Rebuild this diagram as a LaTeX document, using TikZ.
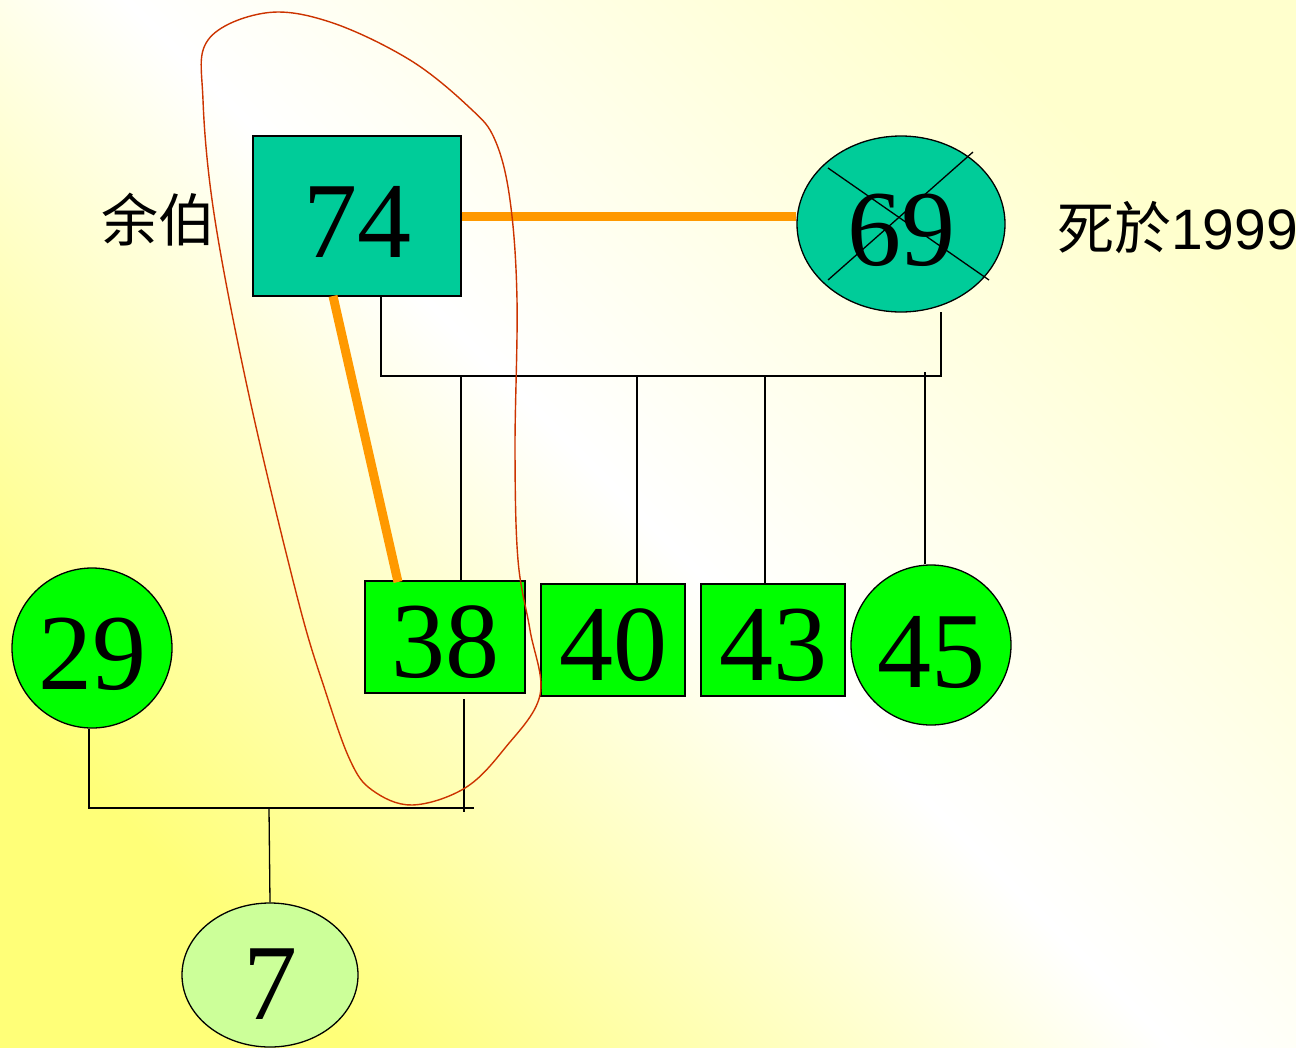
\documentclass[tikz,border=0pt]{standalone}
\usepackage{fontspec}
\setmainfont{Liberation Serif}
\newfontfamily\cjk{Noto Sans CJK SC}
\newfontfamily\arialf{Liberation Sans}
\usetikzlibrary{shapes.geometric,calc}
\definecolor{teal74}{RGB}{0,204,153}
\definecolor{green38}{RGB}{0,255,0}
\definecolor{lightg}{RGB}{204,255,153}
\definecolor{orangeL}{RGB}{255,153,0}
\definecolor{redloop}{RGB}{204,51,0}
\definecolor{bgyellow}{RGB}{255,255,120}
\definecolor{bgpale}{RGB}{255,255,205}
\begin{document}
\begin{tikzpicture}[x=1pt,y=-1pt,
  num/.style={font=\fontsize{108}{108}\selectfont, inner sep=0pt},
  boxnode/.style={draw=black, line width=1.3pt, rectangle, inner sep=0pt},
  roundnode/.style={draw=black, line width=1.3pt, ellipse, inner sep=0pt},
  conn/.style={draw=black, line width=1.3pt},
  thick orange/.style={draw=orangeL, line width=9pt},
  lbl/.style={font=\fontsize{57}{57}\selectfont, inner sep=0pt}]
\useasboundingbox (0,0) rectangle (1296,1047);
\shade[top color=bgpale, bottom color=bgyellow, middle color=white, shading angle=-45] (0,0) rectangle (1296,1047);

% nodes
\node[boxnode, fill=teal74, minimum width=208pt, minimum height=160pt] (n74) at (357,216) {};
\node[num] at (357,222) {74};
\node[roundnode, fill=teal74, minimum width=208pt, minimum height=176pt] (n69) at (901,224) {};
\node[num] at (901,230) {69};
\draw[black, line width=1.3pt] (828,168) -- (989,280);
\draw[black, line width=1.3pt] (973,152) -- (828,280);

\node[boxnode, fill=green38, minimum width=160pt, minimum height=112pt] (n38) at (445,637) {};
\node[num] at (445,642) {38};
\node[boxnode, fill=green38, minimum width=144pt, minimum height=112pt] (n40) at (613,640) {};
\node[num] at (613,645) {40};
\node[boxnode, fill=green38, minimum width=144pt, minimum height=112pt] (n43) at (773,640) {};
\node[num] at (773,645) {43};
\node[roundnode, fill=green38, minimum width=160pt, minimum height=160pt] (n45) at (931,645) {};
\node[num] at (931,652) {45};
\node[roundnode, fill=green38, minimum width=160pt, minimum height=160pt] (n29) at (92,648) {};
\node[num] at (92,654) {29};
\node[roundnode, fill=lightg, minimum width=176pt, minimum height=144pt] (n7) at (270,975) {};
\node[num] at (270,984) {7};

% labels
\node[lbl] (l1) at (158,220) {\cjk 余伯};
\node[lbl, anchor=west] (l2) at (1057,228) {\cjk 死於\arialf 1999};

% orange connectors
\draw[thick orange] (n74.east) -- (n74.east -| n69.west);
\draw[thick orange] (333,296) -- (398,582);

% thin connectors
\coordinate (a1) at (381,376);
\coordinate (a2) at (941,376);
\draw[conn] (n74.south -| a1) -- (a1) -- (a2) -- (941,312);
\draw[conn] (461,376) -- (n38.north -| 461,0);
\draw[conn] (637,376) -- (n40.north -| 637,0);
\draw[conn] (765,376) -- (n43.north -| 765,0);
\draw[conn] (925,372) -- (n45.north -| 925,0);

\coordinate (b1) at (89,808);
\coordinate (b2) at (474,808);
\coordinate (b3) at (269,808);
\draw[conn] (n29.south -| b1) -- (b1) -- (b2);
\draw[conn] (464,699) -- (464,812);
\draw[conn] (b3) -- (n7.north);

% red loop
\draw[redloop, line width=1.4pt] plot[smooth cycle, tension=0.6] coordinates {
 (265,13) (330,22) (410,60) (470,108) (495,140) (510,200) (517,300) (515,450)
 (518,560) (530,630) (540,695) (505,748) (465,788) (412,805) (372,790) (350,760)
 (325,690) (298,600) (250,400) (215,220) (203,100) (208,40)};
\end{tikzpicture}
\end{document}
